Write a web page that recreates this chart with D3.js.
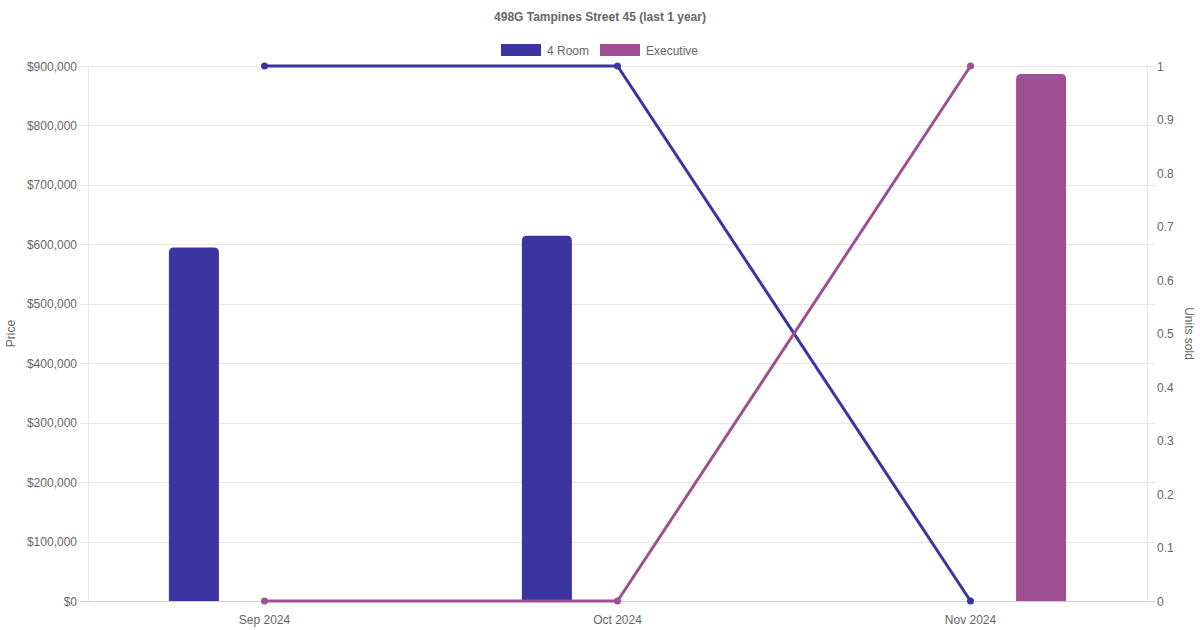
<!DOCTYPE html>
<html>
<head>
<meta charset="utf-8">
<script src="https://cdn.jsdelivr.net/npm/d3@7"></script>
<style>
  html, body { margin: 0; padding: 0; background: #fff; overflow: hidden; }
  svg { display: block; }
</style>
</head>
<body>
<svg id="chart" width="1200" height="630" font-family="'Liberation Sans', Arial, Helvetica, sans-serif"></svg>
<script>
const titleText = "498G Tampines Street 45 (last 1 year)";
const months = ["Sep 2024", "Oct 2024", "Nov 2024"];
const seriesNames = ["4 Room", "Executive"];
const seriesColors = ["#3A35A0", "#9F4F93"];
const priceFourRoom = [594500, 614500, null];
const priceExecutive = [null, null, 886500];
const unitsFourRoom = [1, 1, 0];
const unitsExecutive = [0, 0, 1];
const priceTicks = [0, 100000, 200000, 300000, 400000, 500000, 600000, 700000, 800000, 900000];
const unitTicks = [0, 0.1, 0.2, 0.3, 0.4, 0.5, 0.6, 0.7, 0.8, 0.9, 1];

const svg = d3.select("#chart");
const W = 1200, H = 630;
const m = { left: 88, right: 1147, top: 66, bottom: 601 };
const textColor = "#666";
const gridColor = "#e6e6e6";

const x = d3.scaleBand().domain(months).range([m.left, m.right]);
const innerWidth = x.bandwidth() * 0.8;
const xi = d3.scaleBand().domain(seriesNames).range([(x.bandwidth() - innerWidth) / 2, (x.bandwidth() + innerWidth) / 2]);
const yL = d3.scaleLinear().domain([0, 900000]).range([m.bottom, m.top]);
const yR = d3.scaleLinear().domain([0, 1]).range([m.bottom, m.top]);
const fmtPrice = d => "$" + d3.format(",")(d);
const fmtUnits = d => d3.format("~g")(d);

// Title
svg.append("text").attr("x", W / 2).attr("y", 21).attr("text-anchor", "middle")
  .attr("font-size", 12).attr("font-weight", "bold").attr("fill", textColor).text(titleText);

// Legend
const legendItems = [{ name: seriesNames[0], color: seriesColors[0], x: 501 }, { name: seriesNames[1], color: seriesColors[1], x: 600 }];
legendItems.forEach(d => {
  svg.append("rect").attr("x", d.x).attr("y", 44).attr("width", 40).attr("height", 12).attr("fill", d.color);
  svg.append("text").attr("x", d.x + 46).attr("y", 54.5).attr("font-size", 12).attr("fill", textColor).text(d.name);
});

// Grid lines
svg.append("g").selectAll("line").data(priceTicks).join("line")
  .attr("x1", m.left - 8).attr("x2", m.right + 8)
  .attr("y1", d => Math.round(yL(d)) + 0.5).attr("y2", d => Math.round(yL(d)) + 0.5)
  .attr("stroke", d => d === 0 ? "#cfcfcf" : gridColor).attr("stroke-width", 1);

// Left tick labels
svg.append("g").selectAll("text").data(priceTicks).join("text")
  .attr("x", m.left - 11).attr("y", d => yL(d) + 4.5).attr("text-anchor", "end")
  .attr("font-size", 12).attr("fill", textColor).text(fmtPrice);

// Right tick labels
svg.append("g").selectAll("text").data(unitTicks).join("text")
  .attr("x", m.right + 10).attr("y", d => yR(d) + 4.5).attr("text-anchor", "start")
  .attr("font-size", 12).attr("fill", textColor).text(fmtUnits);

// Vertical axis borders
svg.append("line").attr("x1", m.left + 0.5).attr("x2", m.left + 0.5).attr("y1", m.top).attr("y2", m.bottom).attr("stroke", gridColor);
svg.append("line").attr("x1", m.right + 0.5).attr("x2", m.right + 0.5).attr("y1", m.top).attr("y2", m.bottom).attr("stroke", gridColor);

// Bottom labels
svg.append("g").selectAll("text").data(months).join("text")
  .attr("x", d => x(d) + x.bandwidth() / 2).attr("y", 624).attr("text-anchor", "middle")
  .attr("font-size", 12).attr("fill", textColor).text(d => d);

// Axis titles
svg.append("text").attr("transform", `translate(15,${(m.top + m.bottom) / 2}) rotate(-90)`)
  .attr("text-anchor", "middle").attr("font-size", 12).attr("fill", textColor).text("Price");
svg.append("text").attr("transform", `translate(1185,${(m.top + m.bottom) / 2}) rotate(90)`)
  .attr("text-anchor", "middle").attr("font-size", 12).attr("fill", textColor).text("Units sold");

// Bars
const barData = [];
[priceFourRoom, priceExecutive].forEach((arr, si) => {
  arr.forEach((v, i) => { if (v != null) barData.push({ month: months[i], series: seriesNames[si], value: v, color: seriesColors[si] }); });
});
const barW = 50, r = 5;
function barPath(d) {
  const cx = x(d.month) + xi(d.series) + xi.bandwidth() / 2;
  const x0 = cx - barW / 2, x1 = cx + barW / 2;
  const y0 = yL(0), y1 = yL(d.value);
  return `M${x0},${y0} L${x0},${y1 + r} Q${x0},${y1} ${x0 + r},${y1} L${x1 - r},${y1} Q${x1},${y1} ${x1},${y1 + r} L${x1},${y0} Z`;
}
svg.append("g").selectAll("path").data(barData).join("path")
  .attr("d", barPath).attr("fill", d => d.color);

// Lines
const lineSeries = [
  { values: unitsFourRoom, color: seriesColors[0] },
  { values: unitsExecutive, color: seriesColors[1] }
];
const line = d3.line().x((d, i) => x(months[i]) + x.bandwidth() / 2).y(d => yR(d));
lineSeries.forEach(s => {
  svg.append("path").datum(s.values).attr("d", line).attr("fill", "none")
    .attr("stroke", s.color).attr("stroke-width", 3);
  svg.append("g").selectAll("circle").data(s.values).join("circle")
    .attr("cx", (d, i) => x(months[i]) + x.bandwidth() / 2).attr("cy", d => yR(d))
    .attr("r", 3.5).attr("fill", s.color);
});
</script>
</body>
</html>
